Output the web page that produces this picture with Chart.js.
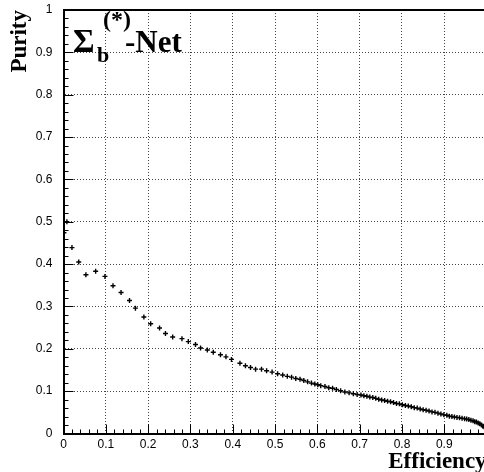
<!DOCTYPE html>
<html>
<head>
<meta charset="utf-8">
<script src="https://cdn.jsdelivr.net/npm/chart.js@4.4.1/dist/chart.umd.min.js"></script>
<style>
    html, body { margin: 0; padding: 0; background: #fff; overflow: hidden; width: 484px; height: 472px; }
    #purity-chart { display: block; }
</style>
</head>
<body>
<canvas id="purity-chart" width="492" height="472" style="width:492px;height:472px"></canvas>
<script>
// Efficiency vs purity points
const efficiency = [
    0.001, 0.008, 0.020, 0.036, 0.053, 0.076, 0.098, 0.117, 0.136, 0.156,
    0.170, 0.190, 0.206, 0.227, 0.241, 0.258, 0.280, 0.295, 0.312, 0.324,
    0.340, 0.354, 0.371, 0.384, 0.397, 0.417, 0.430, 0.442, 0.454, 0.468,
    0.480, 0.493, 0.506, 0.518, 0.529, 0.539, 0.549, 0.559, 0.568, 0.577,
    0.586, 0.594, 0.601, 0.608, 0.618, 0.627, 0.636, 0.645, 0.655, 0.665,
    0.675, 0.685, 0.694, 0.703, 0.710, 0.717, 0.724, 0.731, 0.738, 0.745,
    0.752, 0.759, 0.766, 0.773, 0.780, 0.787, 0.794, 0.801, 0.808, 0.815,
    0.822, 0.829, 0.836, 0.843, 0.850, 0.857, 0.864, 0.871, 0.878, 0.885,
    0.892, 0.899, 0.906, 0.912, 0.918, 0.924, 0.930, 0.936, 0.942, 0.948,
    0.953, 0.958, 0.963, 0.968, 0.972, 0.976, 0.980, 0.984, 0.988, 0.992,
    0.995
];
const purity = [
    0.474, 0.500, 0.439, 0.405, 0.375, 0.383, 0.371, 0.349, 0.333, 0.314,
    0.296, 0.275, 0.259, 0.249, 0.236, 0.228, 0.224, 0.217, 0.210, 0.202,
    0.197, 0.192, 0.186, 0.181, 0.175, 0.166, 0.160, 0.156, 0.152, 0.152,
    0.148, 0.145, 0.141, 0.138, 0.135, 0.133, 0.130, 0.128, 0.125, 0.122,
    0.119, 0.117, 0.115, 0.113, 0.111, 0.108, 0.107, 0.104, 0.101, 0.098,
    0.096, 0.094, 0.092, 0.091, 0.089, 0.088, 0.086, 0.085, 0.083, 0.081,
    0.079, 0.078, 0.076, 0.075, 0.073, 0.071, 0.070, 0.068, 0.066, 0.065,
    0.063, 0.061, 0.060, 0.058, 0.056, 0.055, 0.053, 0.051, 0.050, 0.048,
    0.046, 0.044, 0.043, 0.041, 0.040, 0.039, 0.038, 0.037, 0.036, 0.035,
    0.034, 0.033, 0.031, 0.030, 0.028, 0.027, 0.025, 0.023, 0.020, 0.017,
    0.014
];
const axisMin = 0;
const axisMax = 1;
const majorStep = 0.1;
const minorStep = 0.02;

const points = efficiency.map((x, i) => ({ x: x, y: purity[i] }));

const fmtTick = (v) => {
    const r = Math.round(v * 10) / 10;
    if (r === 0) return '0';
    if (r >= 1) return null;
    return r.toFixed(1);
};

// ROOT style frame: inward ticks, solid top border, latex-ish label
const framePlugin = {
    id: 'rootFrame',
    afterDraw(chart) {
        const ctx = chart.ctx;
        const area = chart.chartArea;
        const xs = chart.scales.x;
        const ys = chart.scales.y;
        ctx.save();
        ctx.strokeStyle = '#000';
        ctx.lineWidth = 1;
        const n = Math.round((axisMax - axisMin) / minorStep);
        for (let i = 0; i <= n; i++) {
            const v = axisMin + i * minorStep;
            const major = i % 5 === 0;
            const px = Math.round(xs.getPixelForValue(v)) + 0.5;
            ctx.beginPath();
            ctx.moveTo(px, area.bottom);
            ctx.lineTo(px, area.bottom - (major ? 9 : 4));
            ctx.stroke();
            const py = Math.round(ys.getPixelForValue(v)) + 0.5;
            ctx.beginPath();
            ctx.moveTo(area.left, py);
            ctx.lineTo(area.left + (major ? 10 : 5), py);
            ctx.stroke();
        }
        ctx.lineWidth = 2;
        ctx.beginPath();
        ctx.moveTo(area.left, area.top);
        ctx.lineTo(area.right, area.top);
        ctx.stroke();

        ctx.fillStyle = '#000';
        ctx.textBaseline = 'alphabetic';
        ctx.textAlign = 'left';
        ctx.font = 'bold 33px "Liberation Serif"';
        ctx.fillText('\u03A3', 73, 52);
        ctx.font = 'bold 22px "Liberation Serif"';
        ctx.fillText('b', 97, 62);
        ctx.font = 'bold 24px "Liberation Serif"';
        ctx.fillText('(*)', 103, 27);
        ctx.font = 'bold 31px "Liberation Serif"';
        ctx.fillText('-Net', 125, 52);
        ctx.restore();
    }
};

const ctx = document.getElementById('purity-chart').getContext('2d');
new Chart(ctx, {
    type: 'scatter',
    data: {
        datasets: [{
            data: points,
            pointStyle: 'cross',
            pointRadius: 2.5,
            borderColor: '#000',
            backgroundColor: '#000',
            borderWidth: 1.4,
            showLine: false
        }]
    },
    options: {
        responsive: false,
        animation: false,
        devicePixelRatio: 1,
        layout: { padding: { top: 10, right: 5, left: 0, bottom: 0 } },
        plugins: {
            legend: { display: false },
            tooltip: { enabled: false }
        },
        scales: {
            x: {
                type: 'linear',
                min: axisMin,
                max: axisMax,
                afterFit: (scale) => {
                    scale.height = 38.5;
                    scale.paddingLeft = 0;
                    scale.paddingRight = 0;
                },
                grid: { color: '#444', lineWidth: 1, drawTicks: false },
                border: { display: true, color: '#000', width: 2, dash: [1, 2] },
                ticks: {
                    stepSize: majorStep,
                    autoSkip: false,
                    maxRotation: 0,
                    padding: 4,
                    color: '#000',
                    font: { family: '"Liberation Sans"', size: 12 },
                    callback: fmtTick
                },
                title: {
                    display: true,
                    text: 'Efficiency',
                    align: 'end',
                    color: '#000',
                    padding: 0,
                    font: { family: '"Liberation Serif"', size: 23, weight: 'bold', lineHeight: 0.85 }
                }
            },
            y: {
                type: 'linear',
                min: axisMin,
                max: axisMax,
                afterFit: (scale) => {
                    scale.width = 63.5;
                    scale.paddingTop = 0;
                    scale.paddingBottom = 0;
                },
                grid: { color: '#444', lineWidth: 1, drawTicks: false },
                border: { display: true, color: '#000', width: 2, dash: [1, 2] },
                ticks: {
                    stepSize: majorStep,
                    autoSkip: false,
                    padding: 11,
                    color: '#000',
                    font: { family: '"Liberation Sans"', size: 12 },
                    callback: (v) => {
                        const r = Math.round(v * 10) / 10;
                        return r === 0 ? '0' : (r === 1 ? '1' : r.toFixed(1));
                    }
                },
                title: {
                    display: true,
                    text: 'Purity',
                    align: 'end',
                    color: '#000',
                    padding: { top: 6, bottom: 0 },
                    font: { family: '"Liberation Serif"', size: 23, weight: 'bold', lineHeight: 1.2 }
                }
            }
        }
    },
    plugins: [framePlugin]
});
</script>
</body>
</html>
